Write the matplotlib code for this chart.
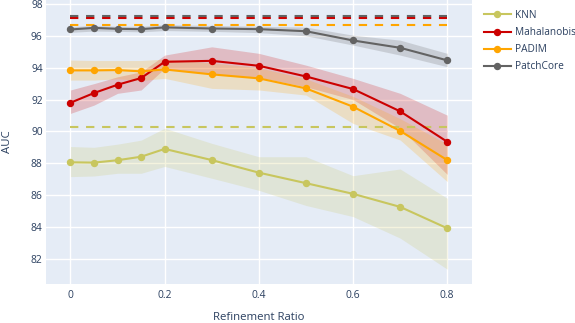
import matplotlib

matplotlib.use("Agg")
import matplotlib.pyplot as plt

plt.rcParams["font.family"] = ["Open Sans", "DejaVu Sans"]

ratios = [0, 0.05, 0.1, 0.15, 0.2, 0.3, 0.4, 0.5, 0.6, 0.7, 0.8]

knn = [88.06, 88.04, 88.19, 88.41, 88.90, 88.20, 87.41, 86.75, 86.08, 85.26, 83.92]
knn_hi = [89.05, 89.00, 89.20, 89.45, 90.20, 89.25, 88.41, 88.41, 87.22, 87.64, 85.80]
knn_lo = [87.16, 87.20, 87.37, 87.37, 87.80, 87.06, 86.30, 85.35, 84.65, 83.30, 81.35]

maha = [91.80, 92.41, 92.93, 93.35, 94.37, 94.43, 94.12, 93.45, 92.66, 91.26, 89.35]
maha_hi = [92.60, 93.00, 93.43, 93.74, 94.79, 95.31, 94.90, 94.16, 93.33, 92.39, 91.02]
maha_lo = [91.13, 91.65, 92.39, 92.60, 93.96, 93.60, 93.40, 92.80, 92.00, 90.20, 87.30]

padim = [93.83, 93.83, 93.85, 93.77, 93.89, 93.58, 93.33, 92.70, 91.55, 90.03, 88.20]
padim_hi = [94.48, 94.45, 94.45, 94.45, 94.54, 94.30, 94.00, 93.30, 92.20, 90.80, 89.20]
padim_lo = [93.22, 93.22, 93.30, 93.20, 93.33, 92.70, 92.60, 92.28, 90.50, 89.46, 86.85]

patch = [96.40, 96.50, 96.44, 96.42, 96.53, 96.46, 96.42, 96.29, 95.71, 95.25, 94.46]
patch_hi = [96.58, 96.65, 96.60, 96.60, 96.70, 96.65, 96.60, 96.55, 96.04, 95.73, 94.90]
patch_lo = [96.22, 96.30, 96.28, 96.25, 96.33, 96.28, 96.20, 96.00, 95.42, 94.79, 94.06]

# full-image baselines (dashed)
baselines = {"KNN": 90.30, "Mahalanobis": 97.09, "PADIM": 96.65, "PatchCore": 97.22}

series = [
    ("KNN", knn, knn_lo, knn_hi, "#c8c65e", 0.2),
    ("Mahalanobis", maha, maha_lo, maha_hi, "#cc0000", 0.2),
    ("PADIM", padim, padim_lo, padim_hi, "#ffa500", 0.2),
    ("PatchCore", patch, patch_lo, patch_hi, "#636363", 0.22),
]

TEXT = "#2a3f5f"

fig = plt.figure(figsize=(5.75, 3.23), dpi=100)
ax = fig.add_axes([46 / 575, 1 - 283.5 / 323, (471.7 - 46) / 575, 283.5 / 323])
ax.set_facecolor("#e5ecf6")

for name, vals, lo, hi, color, alpha in series:
    ax.fill_between(ratios, lo, hi, color=color, alpha=alpha, linewidth=0, zorder=2)

for name, vals, lo, hi, color, alpha in series:
    ax.plot([ratios[0], ratios[-1]], [baselines[name]] * 2, color=color,
            linestyle=(0, (4, 3.7)), linewidth=1.5, zorder=3)

for name, vals, lo, hi, color, alpha in series:
    ax.plot(ratios, vals, color=color, linewidth=1.5, marker="o", markersize=4.3,
            label=name, zorder=4)

ax.set_xlim(-0.052, 0.852)
ax.set_ylim(80.45, 98.25)
ax.set_xticks([0, 0.2, 0.4, 0.6, 0.8])
ax.set_xticklabels(["0", "0.2", "0.4", "0.6", "0.8"])
ax.set_yticks([82, 84, 86, 88, 90, 92, 94, 96, 98])
ax.grid(True, color="white", linewidth=1.0, zorder=0)
ax.set_axisbelow(True)
for s in ax.spines.values():
    s.set_visible(False)
ax.tick_params(length=0, labelsize=7.4, colors=TEXT)
ax.tick_params(axis="x", pad=4.5)
ax.tick_params(axis="y", pad=2.4)
ax.set_xlabel("Refinement Ratio", fontsize=8.2, color=TEXT, labelpad=8)
ax.set_ylabel("AUC", fontsize=8.2, color=TEXT, labelpad=13)

fig.legend(loc="upper left", bbox_to_anchor=(484 / 575, 1 - 10 / 323), frameon=False,
           fontsize=7.3, labelcolor=TEXT, handlelength=2.65, handletextpad=0.4,
           labelspacing=0.6, borderpad=0, borderaxespad=0)

fig.savefig("out.png", dpi=100)
